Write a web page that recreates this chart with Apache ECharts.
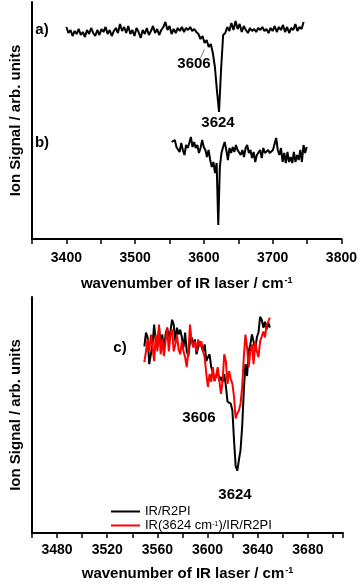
<!DOCTYPE html>
<html>
<head>
<meta charset="utf-8">
<script src="https://cdn.jsdelivr.net/npm/echarts@6/dist/echarts.min.js"></script>
<style>
  html, body { margin: 0; padding: 0; background: #fff; }
  #chart { width: 360px; height: 584px; }
</style>
</head>
<body>
<div id="chart"></div>
<script>
// panel a) / b): IR/R2PI scans (arbitrary units, stacked)
var startA = 3400, stepA = 3;
var traceA = [212,206,209,203,208,205,210,204,207,202,209,205,211,206,203,209,204,210,207,212,
  205,209,203,208,211,206,215,208,212,206,213,205,209,203,211,207,201,209,205,211,
  204,208,213,206,210,204,209,212,217,209,213,205,210,206,211,208,212,207,211,209,
  212,208,210,207,205,200,203,196,199,192,195,186,172,148,127,170,204,206,212,208,
  216,209,218,210,215,207,213,209,206,211,208,210,207,211,209,212,208,210,206,211,
  208,213,207,212,209,214,207,212,206,211,209,215,208,212,210,217];
var startB = 3553, stepB = 2.34;
var traceB = [97,96,99,92,94,87,96,89,84,94,91,96,102,92,97,91,94,86,91,99,
  92,89,82,89,79,72,77,66,76,14,72,86,92,97,89,79,91,86,92,87,
  94,89,91,84,89,82,91,94,86,89,81,87,77,84,82,89,81,91,86,84,
  89,86,87,89,91,101,89,84,91,77,86,76,87,77,82,76,87,77,84,79,
  89,77,94,86,92];
// leader from "3606" label to trace a
var leaderA = [[3594.8, 180.7], [3600.9, 189.7]];

// panel c): IR/R2PI vs IR(3624 cm-1)/IR/R2PI
var startC = 3549.6, stepC = 1.3;
var traceC1 = [189,203,198,171,169,191,211,194,188,208,191,201,184,201,208,198,204,216,211,194,
  208,201,206,198,188,203,184,179,194,198,191,196,181,188,194,193,184,191,174,
  178,181,168,163,154,159,163,154,158,153,161,149,133,133,131,124,94,68,63,74,
  84,108,144,171,159,184,191,201,194,184,198,203,219,216,208,214,206,213,208];
var traceC2 = [173,184,196,184,201,189,174,201,184,211,181,196,179,194,208,184,201,206,184,191,
  201,186,181,194,184,178,168,184,211,194,188,194,184,196,189,194,184,178,161,
  148,161,153,168,154,159,168,154,141,154,181,174,151,164,156,151,138,116,121,124,
  131,148,178,201,188,168,184,191,171,194,184,178,194,199,204,198,211,214,218];
var seriesNames = ['IR/R2PI', 'IR(3624 cm-1)/IR/R2PI'];

function pairs(start, step, vals) {
  var out = [];
  for (var i = 0; i < vals.length; i++) {
    out.push([+(start + i * step).toFixed(2), vals[i]]);
  }
  return out;
}

var FONT = '"Liberation Sans", Arial, sans-serif';
var myChart = echarts.init(document.getElementById('chart'));

function xAxisOpt(idx, min, max, interval, every, margin, gap) {
  return {
    gridIndex: idx, type: 'value', min: min, max: max, interval: interval,
    name: 'wavenumber of IR laser / cm{sup|-1}',
    nameLocation: 'middle', nameGap: gap,
    nameTextStyle: {
      color: '#000', fontFamily: FONT, fontWeight: 'bold', fontSize: 15,
      rich: { sup: { fontSize: 9, fontWeight: 'bold', fontFamily: FONT, color: '#000',
                     verticalAlign: 'top', lineHeight: 9, padding: [0, 0, 8, 1] } }
    },
    axisLine: { show: true, onZero: false, lineStyle: { color: '#000', width: 2 } },
    axisTick: { show: true, inside: false, length: 5, lineStyle: { color: '#000', width: 1.5 } },
    axisLabel: {
      margin: margin, color: '#000', fontFamily: FONT, fontWeight: 'bold', fontSize: 14,
      formatter: function (v) { return v % every === 0 ? String(v) : ''; }
    },
    splitLine: { show: false }
  };
}
function yAxisOpt(idx, max) {
  return {
    gridIndex: idx, type: 'value', min: 0, max: max,
    name: 'Ion Signal / arb. units', nameLocation: 'middle', nameRotate: 90, nameGap: 9,
    nameTextStyle: { color: '#000', fontFamily: FONT, fontWeight: 'bold', fontSize: 15 },
    axisLine: { show: true, onZero: false, lineStyle: { color: '#000', width: 2 } },
    axisTick: { show: false }, axisLabel: { show: false }, splitLine: { show: false }
  };
}
function lineSeries(name, xi, data, color, w) {
  return {
    name: name, type: 'line', xAxisIndex: xi, yAxisIndex: xi, data: data,
    symbol: 'none', smooth: false, lineStyle: { color: color, width: w },
    itemStyle: { color: color }, silent: true
  };
}
function label(text, x, y) {
  return { type: 'text', style: { text: text, x: x, y: y, fill: '#000',
    font: 'bold 15px ' + FONT, textAlign: 'center', textVerticalAlign: 'middle' } };
}

var option = {
  animation: false,
  backgroundColor: '#fff',
  grid: [
    { left: 24, top: 2, width: 319, height: 237 },
    { left: 25, top: 297, width: 318, height: 239 }
  ],
  xAxis: [
    xAxisOpt(0, 3350, 3800, 50, 100, 12, 37),
    xAxisOpt(1, 3460, 3708, 20, 40, 10, 33)
  ],
  yAxis: [yAxisOpt(0, 237), yAxisOpt(1, 239)],
  legend: {
    data: seriesNames, orient: 'vertical', left: 111, top: 505,
    icon: 'rect', itemWidth: 29, itemHeight: 2, itemGap: 1,
    padding: 0,
    formatter: function (n) { return n.replace('cm-1', 'cm{sup|-1}'); },
    textStyle: { color: '#000', fontFamily: FONT, fontSize: 13, lineHeight: 10,
      rich: { sup: { fontSize: 7, fontFamily: FONT, color: '#000', verticalAlign: 'top',
                     lineHeight: 7, padding: [0, 0, 4, 0] } } }
  },
  series: [
    lineSeries('a', 0, pairs(startA, stepA, traceA), '#000', 2),
    lineSeries('b', 0, pairs(startB, stepB, traceB), '#000', 2),
    lineSeries('leader', 0, leaderA, '#555', 0.8),
    lineSeries(seriesNames[0], 1, pairs(startC, stepC, traceC1), '#000', 2),
    lineSeries(seriesNames[1], 1, pairs(startC, stepC, traceC2), '#ff0000', 2)
  ],
  graphic: [
    label('a)', 42, 30),
    label('3606', 194, 64),
    label('3624', 218, 123),
    label('b)', 42, 143),
    label('c)', 120, 348),
    label('3606', 199, 418),
    label('3624', 235, 495)
  ]
};
myChart.setOption(option);
</script>
</body>
</html>
